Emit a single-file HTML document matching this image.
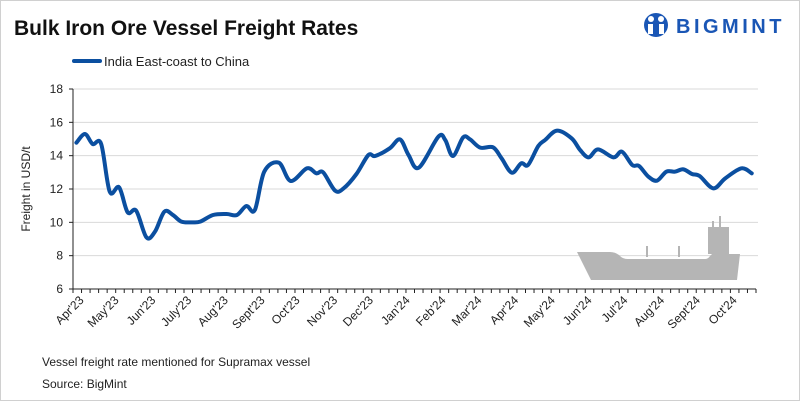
<!DOCTYPE html>
<html><head><meta charset="utf-8"><style>
body{margin:0;background:#fff;}
#wrap{position:relative;width:798px;height:399px;border:1px solid #d0d0d0;background:#fff;font-family:"Liberation Sans",sans-serif;overflow:hidden}
</style></head><body>
<div id="wrap">
<svg id="chart" width="800" height="401" style="position:absolute;left:-1px;top:-1px">
<text x="14" y="35" font-size="21" font-weight="bold" fill="#111">Bulk Iron Ore Vessel Freight Rates</text>
<g>
<circle cx="656" cy="25" r="12" fill="#1a56b5"/>
<circle cx="651" cy="19" r="3" fill="#fff"/><circle cx="661" cy="19" r="3" fill="#fff"/>
<rect x="648" y="24" width="5" height="10" fill="#fff"/><rect x="659" y="24" width="5" height="10" fill="#fff"/>
<text x="676" y="33" font-size="20" font-weight="bold" fill="#1a56b5" letter-spacing="3.5">BIGMINT</text>
</g>
<line x1="74" y1="61" x2="100" y2="61" stroke="#0b4fa0" stroke-width="4" stroke-linecap="round"/>
<text x="104" y="66" font-size="13" fill="#222">India East-coast to China</text>
<text transform="translate(30,189) rotate(-90)" text-anchor="middle" font-size="12" fill="#222">Freight  in USD/t</text>
<g id="grid"></g>
<g fill="#b5b5b5">
<path d="M577 252 L610 252 Q616 252 620 256 Q623 259 628 259 L705 259 Q708 259 710 256 L712 254 L740 254 L737 280 L591 280 Z"/>
<rect x="708" y="227" width="21" height="27"/>
<rect x="712" y="221" width="2" height="7"/><rect x="719" y="216" width="2" height="12"/>
<rect x="646" y="246" width="2" height="11"/><rect x="678" y="246" width="2" height="11"/>
</g>
<g id="axes"></g>
<path id="line" fill="none" stroke="#0b4fa0" stroke-width="4" stroke-linejoin="round" stroke-linecap="round"/>
<text x="42" y="366" font-size="12" fill="#222">Vessel freight rate mentioned for Supramax vessel</text>
<text x="42" y="388" font-size="12" fill="#222">Source:  BigMint</text>
</svg>
</div>
<script>
const weekIdx=[0.4,1.4,2.3,3.3,4.3,5.4,6.4,7.4,8.6,9.6,10.7,11.7,12.7,13.9,14.9,16.4,18.0,19.2,20.3,21.3,22.4,24.1,25.5,27.4,28.5,29.3,30.7,31.7,33.2,34.6,35.4,37.1,38.3,39.3,40.5,42.8,43.6,44.5,45.7,46.5,47.7,49.2,50.2,51.4,52.5,53.3,54.5,55.3,56.7,58.4,59.4,60.4,61.5,63.3,64.3,65.5,66.3,67.4,68.4,69.5,70.5,71.5,72.5,73.4,75.0,76.4,78.3,79.5];
const rates=[14.78,15.3,14.7,14.7,11.84,12.1,10.6,10.7,9.1,9.44,10.64,10.44,10.04,10.0,10.04,10.44,10.5,10.44,10.98,10.74,13.04,13.58,12.48,13.24,12.94,13.0,11.9,12.04,12.9,14.04,13.98,14.44,14.98,14.04,13.28,15.14,14.94,13.98,15.1,14.98,14.48,14.5,13.84,12.98,13.54,13.44,14.58,14.94,15.5,15.04,14.34,13.9,14.38,13.9,14.24,13.44,13.38,12.74,12.5,13.04,13.04,13.18,12.9,12.78,12.04,12.64,13.24,12.94];
const yTicks=[6,8,10,12,14,16,18];
const monthLabels=["Apr'23","May'23","Jun'23","July'23","Aug'23","Sept'23","Oct'23","Nov'23","Dec'23","Jan'24","Feb'24","Mar'24","Apr'24","May'24","Jun'24","Jul'24","Aug'24","Sept'24","Oct'24"];
const monthWeek=[0.3,4.4,8.7,12.9,17.2,21.5,25.6,30,34.2,38.5,42.7,46.9,51.2,55.5,59.8,64,68.3,72.5,76.8];
const totalWeeks=80;
const X0=73,X1=756,Y0=289,Y1=89,ymin=6,ymax=18;
const xs=w=>X0+(X1-X0)*w/totalWeeks;
const ys=v=>Y0-(v-ymin)/(ymax-ymin)*(Y0-Y1);
const NS="http://www.w3.org/2000/svg";
const grid=document.getElementById('grid'),axes=document.getElementById('axes');
function mk(tag,attrs,parent){const e=document.createElementNS(NS,tag);for(const k in attrs)e.setAttribute(k,attrs[k]);parent.appendChild(e);return e;}
yTicks.forEach(v=>{
  if(v>ymin){const g=mk('line',{x1:X0,x2:X1+2,y1:ys(v),y2:ys(v),stroke:'#d9d9d9','stroke-width':1},grid);
  
  }
  const t=mk('text',{x:X0-10,y:ys(v)+4,'text-anchor':'end','font-size':12,fill:'#222'},axes);
  t.textContent=v;
  
  
  const tk=mk('line',{x1:X0-4,x2:X0,y1:ys(v),y2:ys(v),stroke:'#222'},axes);
  
  
});
const ya=mk('line',{x1:X0,x2:X0,y1:Y1,y2:Y0,stroke:'#222'},axes);


const xa=mk('line',{x1:X0,x2:X1,y1:Y0,y2:Y0,stroke:'#222'},axes);


for(let i=0;i<=totalWeeks;i++){
  const tk=mk('line',{x1:xs(i),x2:xs(i),y1:Y0,y2:Y0+4,stroke:'#222'},axes);
  
  
}
monthLabels.forEach((m,i)=>{
  const x=xs(monthWeek[i])+3,y=Y0+6;
  const t=mk('text',{x:x,y:y,'text-anchor':'end','font-size':12,fill:'#222',transform:`rotate(-45 ${x} ${y})`,dy:'0.7em'},axes);
  t.textContent=m;
  
  
});
const P=weekIdx.map((w,i)=>[xs(w),ys(rates[i])]);
let d=`M${P[0][0]},${P[0][1]}`;
for(let i=0;i<P.length-1;i++){
  const p0=P[i-1]||P[i],p1=P[i],p2=P[i+1],p3=P[i+2]||p2;
  const c1=[p1[0]+(p2[0]-p0[0])/6,p1[1]+(p2[1]-p0[1])/6];
  const c2=[p2[0]-(p3[0]-p1[0])/6,p2[1]-(p3[1]-p1[1])/6];
  d+=` C${c1[0]},${c1[1]} ${c2[0]},${c2[1]} ${p2[0]},${p2[1]}`;
}
document.getElementById('line').setAttribute('d',d);
</script>
</body></html>
